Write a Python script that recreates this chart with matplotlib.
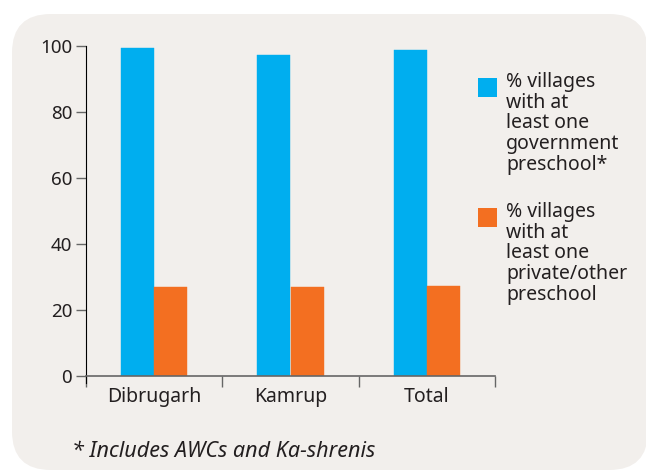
import matplotlib.pyplot as plt
import numpy as np
from matplotlib.patches import FancyBboxPatch, Rectangle

# data
districts = ["Dibrugarh", "Kamrup", "Total"]
govt_pct = [99.4, 97.3, 98.8]
private_pct = [27.0, 27.0, 27.3]
govt_label = "% villages\nwith at\nleast one\ngovernment\npreschool*"
private_label = "% villages\nwith at\nleast one\nprivate/other\npreschool"
footnote = "* Includes AWCs and Ka-shrenis"

BLUE = "#00aeef"
ORANGE = "#f36f21"
BG = "#f2efec"
TXT = "#231f20"

plt.rcParams['font.family'] = ['Noto Sans', 'DejaVu Sans']

fig = plt.figure(figsize=(6.46, 4.73), dpi=100)
fig.patch.set_facecolor("white")

# rounded background panel
W, H = 646, 473
panel = FancyBboxPatch((12 / W, 3 / H), (W - 10) / W, (H - 17) / H,
                       boxstyle="round,pad=0,rounding_size=0.06",
                       transform=fig.transFigure, facecolor=BG,
                       edgecolor="none", mutation_aspect=W / H, zorder=-5)
fig.patches.append(panel)

ax = fig.add_axes([86 / W, 1 - 376 / H, 409 / W, 330 / H])
ax.set_facecolor("none")
ax.set_zorder(2)

x = np.arange(len(districts))
bw = 0.243
ax.bar(x - bw / 2, govt_pct, width=bw, color=BLUE, edgecolor=BLUE,
       linewidth=0.3, zorder=2)
ax.bar(x + bw / 2, private_pct, width=bw, color=ORANGE, edgecolor=ORANGE,
       linewidth=0.3, zorder=2)

ax.set_xlim(-0.5, len(districts) - 0.5)
ax.set_ylim(0, 100)
ax.set_yticks(np.arange(0, 101, 20))
ax.tick_params(axis='y', length=7, width=1, color="#666666", labelsize=13.5,
               labelcolor=TXT, pad=3)

ax.set_xticks(np.arange(len(districts) + 1) - 0.5)
ax.set_xticklabels([])
ax.set_xticks(x, minor=True)
ax.set_xticklabels(districts, minor=True)
ax.tick_params(axis='x', which='major', length=8, width=1, color="#666666")
ax.tick_params(axis='x', which='minor', length=0, labelsize=14,
               labelcolor=TXT, pad=8)

for s in ["top", "right"]:
    ax.spines[s].set_visible(False)
ax.spines["left"].set_color("black")
ax.spines["bottom"].set_color("#666666")
ax.spines["left"].set_bounds(-2, 100)
ax.spines["bottom"].set_linewidth(1.2)

# legend drawn by hand
for top, col, lab in [(78, BLUE, govt_label), (208, ORANGE, private_label)]:
    fig.patches.append(Rectangle((478 / W, 1 - (top + 19) / H), 19 / W, 19 / H,
                                 transform=fig.transFigure, facecolor=col,
                                 edgecolor="none"))
    fig.text(506 / W, 1 - (top - 6) / H, lab, ha="left", va="top",
             fontsize=14, color=TXT, linespacing=1.05)

fig.text(72 / W, 1 - 451 / H, footnote, ha="left", va="center",
         fontsize=15.5, style="italic", color=TXT)

fig.savefig("out.png", dpi=100)
